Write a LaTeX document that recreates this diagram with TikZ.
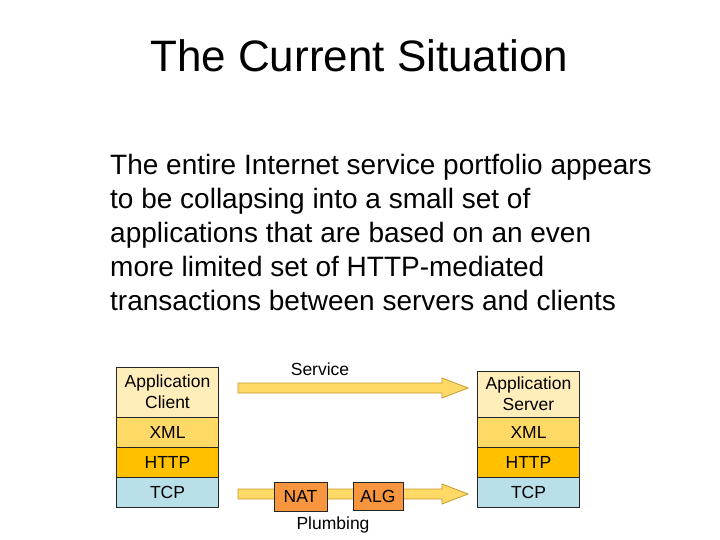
\documentclass[tikz,border=0pt]{standalone}
\usepackage{fontspec}
\setmainfont{Liberation Sans}
\begin{document}
\begin{tikzpicture}[x=1pt,y=-1pt,
  layer/.style={draw=black!85, line width=0.8pt, minimum width=102pt, inner sep=0pt, align=center, font=\fontsize{17.5}{21}\selectfont},
  boxnat/.style={draw=black!85, line width=0.8pt, fill=natc, inner sep=0pt, font=\fontsize{17.5}{21}\selectfont},
  arrowbody/.style={fill=arrc, draw=arrd, line width=0.8pt},
  lbl/.style={inner sep=0pt, font=\fontsize{17.5}{21}\selectfont}]
\definecolor{appc}{HTML}{FFEDBA}
\definecolor{xmlc}{HTML}{FFD966}
\definecolor{httpc}{HTML}{FFC000}
\definecolor{tcpc}{HTML}{B9DFE8}
\definecolor{natc}{HTML}{F7963E}
\definecolor{arrc}{HTML}{FFD966}
\definecolor{arrd}{HTML}{C49A2E}
\useasboundingbox (0,0) rectangle (720,540);
\fill[white] (0,0) rectangle (720,540);

% title
\node[anchor=base west, inner sep=0pt, font=\fontsize{44}{50}\selectfont] (title) at (150,72) {The Current Situation};

% body text (anchor at baseline of last line)
\node[anchor=base west, inner sep=0pt, align=left, font=\fontsize{28}{34}\selectfont] (body) at (110,310)
{The entire Internet service portfolio appears\\
to be collapsing into a small set of\\
applications that are based on an even\\
more limited set of HTTP-mediated\\
transactions between servers and clients};

% arrows (drawn first)
\coordinate (sa) at (238,388);
\coordinate (se) at (468,388);
\draw[arrowbody] (238,383) -- (442,383) -- (442,378) -- (se) -- (442,398) -- (442,393) -- (238,393) -- cycle;
\coordinate (pa) at (238,494);
\coordinate (pe) at (468,494);
\draw[arrowbody] (238,489) -- (442,489) -- (442,484) -- (pe) -- (442,504) -- (442,499) -- (238,499) -- cycle;

% left stack
\node[layer, fill=appc, minimum height=50pt] (lapp) at (167.5,392) {Application\\Client};
\node[layer, fill=xmlc, minimum height=30pt] (lxml) at (167.5,432) {XML};
\node[layer, fill=httpc, minimum height=30pt] (lhttp) at (167.5,462) {HTTP};
\node[layer, fill=tcpc, minimum height=30pt] (ltcp) at (167.5,492) {TCP};

% right stack
\node[layer, fill=appc, minimum height=46pt] (rapp) at (528.5,394) {Application\\Server};
\node[layer, fill=xmlc, minimum height=30pt] (rxml) at (528.5,432) {XML};
\node[layer, fill=httpc, minimum height=30pt] (rhttp) at (528.5,462) {HTTP};
\node[layer, fill=tcpc, minimum height=30pt] (rtcp) at (528.5,492) {TCP};

% middleboxes
\node[boxnat, minimum width=53pt, minimum height=29pt] (nat) at (300.5,496.5) {NAT};
\node[boxnat, minimum width=50pt, minimum height=28pt] (alg) at (378,496) {ALG};

% labels
\node[lbl] (service) at (320,369) {Service};
\node[lbl] (plumb) at (333,525) {Plumbing};
\end{tikzpicture}
\end{document}
